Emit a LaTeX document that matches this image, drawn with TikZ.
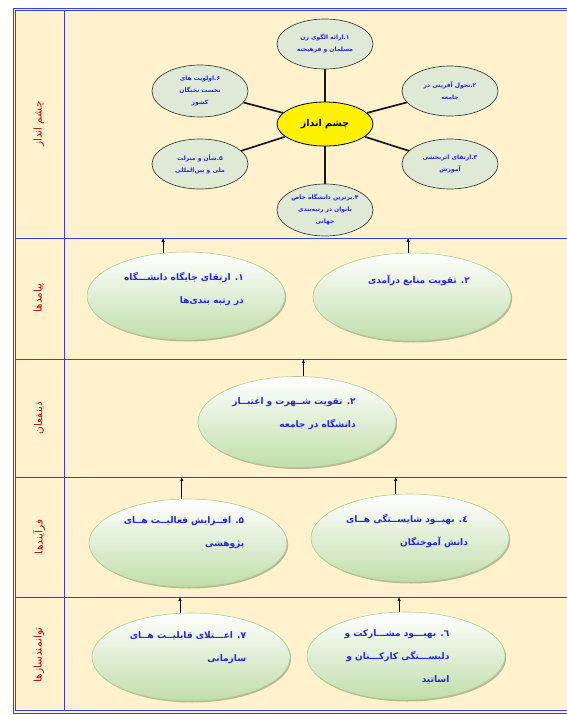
\documentclass[tikz,border=0pt]{standalone}
\usepackage{fontspec}
\usetikzlibrary{arrows.meta,shapes.geometric,shadows}
\TeXXeTstate=1
\newfontfamily\arabicfont[Script=Arabic]{DejaVu Sans}
\usepackage{xcolor}
\definecolor{frameBlue}{RGB}{60,60,240}
\definecolor{paper}{RGB}{255,242,204}
\definecolor{leafGreen}{RGB}{192,222,170}
\definecolor{leafEdge}{RGB}{170,208,144}
\definecolor{visFill}{RGB}{222,233,214}
\definecolor{textBlue}{RGB}{35,35,245}
\definecolor{labelRed}{RGB}{200,10,10}
\newcommand\rl[1]{\beginR #1\endR}

\tikzset{
    goal/.style={ellipse, draw=leafEdge, line width=0.6pt, top color=white, bottom color=leafGreen,
        minimum width=198, minimum height=88, inner sep=0pt,
        drop shadow={shadow xshift=1.2pt, shadow yshift=-1.5pt, fill=black, opacity=0.25}},
    goaltext/.style={font=\arabicfont\bfseries\fontsize{9}{23}\selectfont, text=textBlue, align=right, inner sep=0pt},
    vis/.style={ellipse, draw=black!75, line width=0.7pt, fill=visFill, minimum width=96, minimum height=50,
        inner sep=0pt, font=\arabicfont\bfseries\fontsize{6}{12}\selectfont, text=textBlue, align=center},
    rowlabel/.style={rotate=90, font=\arabicfont\fontsize{10.5}{12}\selectfont, text=labelRed},
    uparrow/.style={-{Latex[length=4pt,width=3.5pt]}, line width=0.6pt, black},
    spoke/.style={line width=1.7pt, black!90}
}

\begin{document}
\begin{tikzpicture}[x=1pt, y=-1pt]
    \useasboundingbox (0,0) rectangle (566,715);
    \newcommand\colx{64}

    % frame and rows
    \fill[paper] (13,8) rectangle (570,713);
    \draw[frameBlue, line width=0.7pt] (13,8) rectangle (570,713);
    \draw[frameBlue, line width=0.5pt] (15.5,10.5) rectangle (570,710.5);
    \draw[frameBlue, line width=0.7pt] (\colx,10.5) -- (\colx,710.5);
    \coordinate (r1) at (15,238);
    \coordinate (r2) at (15,359);
    \coordinate (r3) at (15,477);
    \coordinate (r4) at (15,597);
    \foreach \r in {r1,r2,r3,r4}
        \draw[frameBlue, line width=0.7pt] (\r) -- ++(560,0);

    % row labels
    \node[rowlabel] (lab1) at (39,124) {\rl{چشم انداز}};
    \node[rowlabel] (lab2) at (39,298) {\rl{پیامدها}};
    \node[rowlabel] (lab3) at (39,418) {\rl{ذینفعان}};
    \node[rowlabel] (lab4) at (39,537) {\rl{فرآیندها}};
    \node[rowlabel] (lab5) at (39,655) {\rl{توانمندسازها}};

    % vision
    \node[ellipse, draw=black, line width=0.8pt, fill=yellow, minimum width=96, minimum height=44,
        font=\arabicfont\bfseries\fontsize{9.5}{11}\selectfont] (c) at (325,124) {\rl{چشم انداز}};
    \node[vis] (v1) at (325,44) {\rl{۱.ارائه الگوی زن}\\\rl{مسلمان و فرهیخته}};
    \node[vis] (v2) at (450,91) {\rl{۲.تحول آفرینی در}\\\rl{جامعه}};
    \node[vis] (v3) at (450,164) {\rl{۳.ارتقای اثربخشی}\\\rl{آموزش}};
    \node[vis, minimum height=52] (v4) at (325,210) {\rl{۴.برترین دانشگاه خاص}\\\rl{بانوان در رتبه‌بندی}\\\rl{جهانی}};
    \node[vis] (v5) at (200,164) {\rl{۵.شأن و منزلت}\\\rl{ملی و بین‌المللی}};
    \node[vis, minimum height=52] (v6) at (200,91) {\rl{۶.اولویت های}\\\rl{نخست نخبگان}\\\rl{کشور}};
    \foreach \v in {v1,v2,v3,v4,v5,v6}
        \draw[spoke] (c) -- (\v);

    % outcomes
    \node[goal] (o1) at (186,296) {};
    \node[goaltext] (o1t) at (184,289) {\rl{۱. ارتقای جایگاه دانشـــگاه}\\\rl{در رتبه بندی‌ها}};
    \node[goal] (o2) at (412,297) {};
    \node[goaltext] (o2t) at (419,280) {\rl{۲. تقویت منابع درآمدی}};

    % stakeholders
    \node[goal, minimum height=91] (s1) at (297,422) {};
    \node[goaltext] (s1t) at (294,414) {\rl{۲. تقویت شــهرت و اعتبــار}\\\rl{دانشگاه در جامعه}};

    % processes
    \node[goal] (p5) at (188,543) {};
    \node[goaltext] (p5t) at (184,533) {\rl{۵. افــزایش فعالیــت هــای}\\\rl{پژوهشی}};
    \node[goal] (p4) at (410,538) {};
    \node[goaltext] (p4t) at (407,531) {\rl{٤. بهبــود شایســتگی هــای}\\\rl{دانش آموختگان}};

    % enablers
    \node[goal] (e7) at (191,657) {};
    \node[goaltext] (e7t) at (188,648) {\rl{۷. اعـــتلای قابلیــت هــای}\\\rl{سازمانی}};
    \node[goal] (e6) at (406,656) {};
    \node[goaltext] (e6t) at (397,657) {\rl{٦. بهبـــود مشـــارکت و}\\\rl{دلبســـتگی کارکـــنان و}\\\rl{اساتید}};

    % draw arrow
    \draw[uparrow] (o1.118) -- (o1.118 |- r1);
    \draw[uparrow] (o2.95) -- (o2.95 |- r1);
    \draw[uparrow] (s1.82) -- (s1.82 |- r2);
    \draw[uparrow] (p5.98) -- (p5.98 |- r3);
    \draw[uparrow] (p4.108) -- (p4.108 |- r3);
    \draw[uparrow] (e7.104) -- (e7.104 |- r4);
    \draw[uparrow] (e6.99) -- (e6.99 |- r4);
\end{tikzpicture}
\end{document}
